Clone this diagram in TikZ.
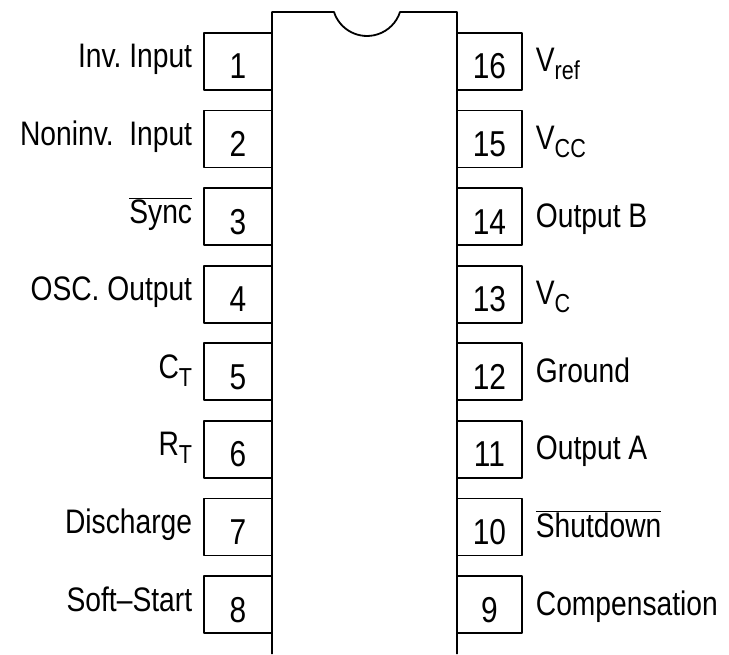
\documentclass[tikz,border=0pt]{standalone}
\usepackage{fontspec}
\setmainfont[FakeStretch=0.83]{Liberation Sans}
\frenchspacing
\newcommand{\ovl}[1]{$\overline{\hbox{#1}}$}
\newcommand{\pinsub}[1]{\raisebox{-8pt}{\fontsize{26}{28}\selectfont #1}}
\begin{document}
\begin{tikzpicture}[x=1pt,y=1pt,line join=round,line width=1.8pt]
  \tikzset{pinbox/.style={draw,minimum height=57pt,inner sep=0pt,outer sep=0pt},
    numtext/.style={font=\fontsize{36}{38}\selectfont,inner sep=0pt},
    pintext/.style={font=\fontsize{34}{36}\selectfont,inner sep=0pt}}
  \def\bodyl{272}
  \def\bodyr{457}
  \def\bodytop{642}
  \def\pitch{77.6}
  \useasboundingbox (0,0) rectangle (729,654);
  % package outline with notch
  \draw (\bodyl,0) -- (\bodyl,\bodytop) -- (334,\bodytop)
    arc[start angle=198,end angle=342,radius=34.7] -- (\bodyr,\bodytop) -- (\bodyr,0);
  % left row
  \foreach \n/\txt in {1/Inv. Input,2/Noninv.~ Input,3/\ovl{Sync},4/OSC. Output,
      5/C\pinsub{T},6/R\pinsub{T},7/Discharge,8/Soft--Start}{
    \node[pinbox,minimum width=68pt,anchor=north east] (pin\n) at (\bodyl,{621-(\n-1)*\pitch}) {};
    \node[numtext,anchor=base] (num\n) at ([yshift=11pt]pin\n.south) {\n};
    \node[pintext,anchor=base east] (lbl\n) at ([xshift=-11pt,yshift=22pt]pin\n.south west) {\txt};
  }
  % right row
  \foreach \n/\txt in {16/V\pinsub{ref},15/V\pinsub{CC},14/Output B,13/V\pinsub{C},
      12/Ground,11/Output A,10/\ovl{Shutdown},9/Compensation}{
    \node[pinbox,minimum width=65pt,anchor=north west] (pin\n) at (\bodyr,{621-(16-\n)*\pitch}) {};
    \node[numtext,anchor=base] (num\n) at ([yshift=11pt]pin\n.south) {\n};
    \node[pintext,anchor=base west] (lbl\n) at ([xshift=13pt,yshift=18pt]pin\n.south east) {\txt};
  }
\end{tikzpicture}
\end{document}
